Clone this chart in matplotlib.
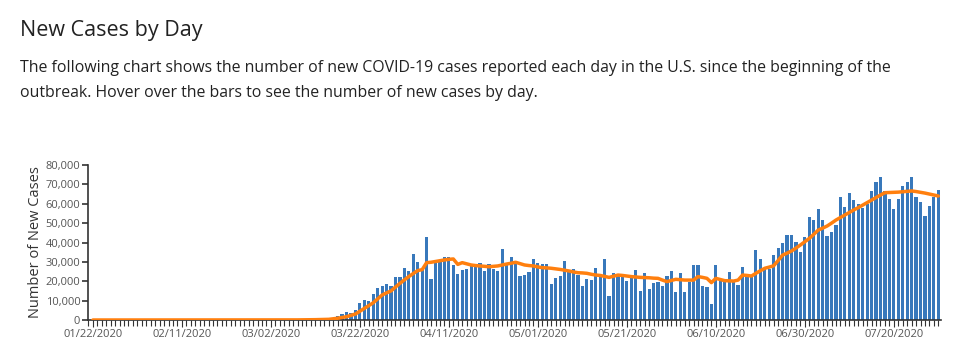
import matplotlib
matplotlib.use("Agg")
import matplotlib.pyplot as plt
from matplotlib.ticker import FuncFormatter, MultipleLocator

# ---------------- data ----------------
tick_labels = ["01/22/2020", "02/11/2020", "03/02/2020", "03/22/2020", "04/11/2020",
               "05/01/2020", "05/21/2020", "06/10/2020", "06/30/2020", "07/20/2020"]

new_cases = [
    # 01/22 - 02/29
    1, 0, 0, 2, 0, 1, 0, 0, 0, 2, 1, 0, 1, 0, 0, 1, 0, 0, 0, 0,
    1, 0, 0, 0, 0, 0, 1, 0, 0, 0, 0, 0, 0, 0, 3, 1, 5, 3, 5,
    # 03/01 - 03/15
    8, 12, 20, 25, 35, 60, 80, 110, 150, 200, 270, 330, 420, 520, 650,
    # 03/16 -
    860, 2240, 3100, 4300, 3500, 5160, 8600, 10300, 9800, 13400,
    16300, 17700, 18600, 17700, 22000, 22000, 26700, 25500, 34200, 29900,
    26500, 43000, 21000, 29600, 30600, 32700, 32700, 28400, 23600, 25800,
    26500, 27900, 27500, 29200, 25500, 28900, 26100, 25300, 36500, 28900,
    32700, 29200, 22900, 23000, 24900, 31500, 29600, 28900, 28900, 18600,
    21500, 22700, 30400, 24600, 26300, 23200, 17500, 21200, 20600, 26700,
    22400, 31500, 12600, 24100, 23200, 22700, 20100, 23200, 25600, 15000,
    24400, 15800, 18900, 19800, 17700, 22900, 25500, 14300, 24100, 14300,
    19400, 28400, 28600, 17700, 17200, 8100, 28600, 21000, 19800, 24800,
    19800, 18100, 27500, 22400, 22400, 36100, 31600, 26100, 26100, 33400,
    37000, 39900, 43900, 43900, 40400, 35100, 42700, 53300, 51600, 57100,
    51600, 43300, 45600, 49000, 63600, 58100, 65400, 61900, 59900, 57600,
    59900, 66700, 71000, 73800, 66700, 62400, 57100, 62300, 69300, 71400,
    74000, 63600, 60900, 53700, 58800, 63300, 67300,
]

avg_7day = [
    # 01/22 - 02/29
    0, 0, 0, 0, 0, 0, 0, 0, 0, 0, 0, 0, 0, 0, 0, 0, 0, 0, 0, 0,
    0, 0, 0, 0, 0, 0, 0, 0, 0, 0, 0, 0, 0, 0, 1, 1, 2, 2, 3,
    # 03/01 - 03/15
    5, 7, 10, 14, 20, 28, 40, 55, 75, 100, 130, 170, 220, 280, 350,
    # 03/16 -
    600, 900, 1300, 1700, 2400, 3100, 4500, 6000, 7400, 8900,
    10900, 12900, 14000, 15000, 17000, 18900, 20700, 22400, 24000, 25500,
    26000, 29600, 29800, 30200, 30600, 31000, 31300, 31500, 28700, 29600,
    29000, 28400, 28100, 27900, 27700, 27500, 27700, 27900, 28400, 28900,
    29300, 29800, 29100, 28400, 28100, 27900, 27400, 27000, 26900, 26700,
    26400, 26100, 25700, 25300, 24800, 24400, 24300, 24100, 23600, 23200,
    23000, 22500, 22000, 22600, 23200, 23000, 22700, 22400, 22200, 22000,
    21900, 21800, 21600, 21500, 20600, 19800, 20400, 21000, 20800, 20600,
    20600, 20600, 22400, 22000, 21500, 19300, 21500, 20900, 20300, 20200,
    20100, 20600, 23200, 23000, 22700, 24100, 25400, 26700, 27300, 28000,
    30700, 33500, 34500, 35600, 37100, 38700, 40400, 42100, 44200, 46400,
    47400, 48500, 50000, 51600, 52900, 54200, 55500, 56800, 58000, 59300,
    60600, 61900, 63200, 64500, 65700, 65800, 65900, 66000, 66200, 66400,
    66600, 66300, 65900, 65500, 65000, 64500, 64000,
]

title = "New Cases by Day"
desc1 = ("The following chart shows the number of new COVID-19 cases reported each day "
         "in the U.S. since the beginning of the")
desc2 = "outbreak. Hover over the bars to see the number of new cases by day."
ylabel = "Number of New Cases"

# ---------------- figure ----------------
plt.rcParams['font.family'] = ['Open Sans', 'DejaVu Sans']
W, H = 964, 355
fig = plt.figure(figsize=(W / 100, H / 100), dpi=100)

fig.text(20 / W, 1 - 36 / H, title, fontsize=15.5, color="#222222", va="baseline", ha="left")
fig.text(20 / W, 1 - 72 / H, desc1, fontsize=11.4, color="#222222", va="baseline", ha="left")
fig.text(20 / W, 1 - 97 / H, desc2, fontsize=11.4, color="#222222", va="baseline", ha="left")

left, right, bottom, top = 88, 941, 320, 165
ax = fig.add_axes([left / W, 1 - bottom / H, (right - left) / W, (bottom - top) / H])

n = len(new_cases)
x = list(range(n))
ax.bar(x, new_cases, width=0.72, color="#3878bb", zorder=2)
ax.plot(x, avg_7day, color="#ff7f0e", lw=2.5, zorder=3, solid_capstyle="round")

ax.set_xlim(-1.1, n - 0.4)
ax.set_ylim(0, 80000)

ax.set_xticks([20 * k for k in range(len(tick_labels))])
ax.set_xticklabels(tick_labels)
ax.xaxis.set_minor_locator(MultipleLocator(1))
ax.tick_params(axis="x", which="major", length=5, width=0.8, color="#333333",
               labelsize=8, labelcolor="#555555", pad=1.5)
ax.tick_params(axis="x", which="minor", length=4, width=0.8, color="#333333")

ax.set_yticks(range(0, 80001, 10000))
ax.yaxis.set_major_formatter(FuncFormatter(lambda v, p: f"{int(v):,}"))
ax.tick_params(axis="y", length=4, width=1.2, color="#333333",
               labelsize=8, labelcolor="#555555", pad=1.5)

for s in ["top", "right"]:
    ax.spines[s].set_visible(False)
for s in ["left", "bottom"]:
    ax.spines[s].set_color("#333333")
    ax.spines[s].set_linewidth(1.2)

ax.set_ylabel(ylabel, fontsize=10.5, color="#333333", labelpad=2)

fig.savefig("out.png", dpi=100)
